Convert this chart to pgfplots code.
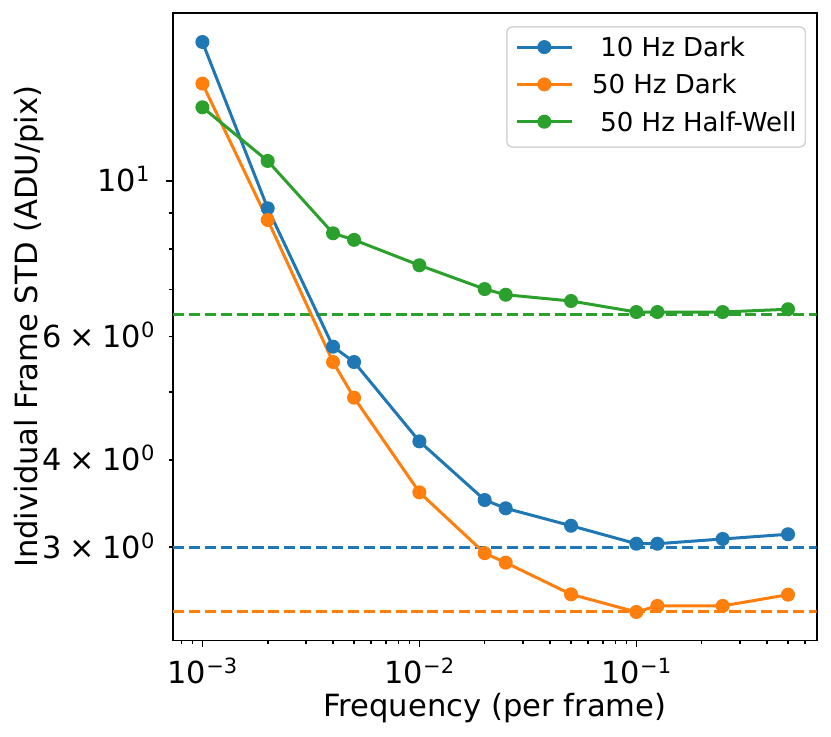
\documentclass[border=0pt]{standalone}
\usepackage{fontspec}
\setmainfont{DejaVu Sans}
\usepackage{pgfplots}
\pgfplotsset{compat=1.18}
\definecolor{c0}{HTML}{1F77B4}
\definecolor{c1}{HTML}{FF7F0E}
\definecolor{c2}{HTML}{2CA02C}
\definecolor{lgd}{HTML}{D6D6D6}
\newcommand{\sups}[1]{\raisebox{5pt}{\fontsize{10.5}{11}\selectfont #1}}
\newcommand{\tms}{\hspace{0.25em}×\hspace{0.25em}}
\begin{document}
\begin{tikzpicture}
\useasboundingbox (-86.5pt,-47.75pt) rectangle (329pt,320.25pt);
\begin{axis}[
  at={(0pt,0pt)}, anchor=south west,
  width=321.85pt, height=313.75pt, scale only axis,
  xmode=log, ymode=log,
  xmin=7.32e-4, xmax=0.678, ymin=2.208, ymax=17.37,
  axis line style={line width=0.8pt, black},
  tick align=outside, major tick length=3.5pt, minor tick length=2pt,
  xtick pos=bottom, ytick pos=left,
  tick style={line width=0.8pt, black},
  every tick label/.style={font=\fontsize{15.2}{18}\selectfont},
  xtick={1e-3,1e-2,1e-1},
  xticklabels={10\sups{−3},10\sups{−2},10\sups{−1}},
  minor xtick={8e-4,9e-4,2e-3,3e-3,4e-3,5e-3,6e-3,7e-3,8e-3,9e-3,2e-2,3e-2,4e-2,5e-2,6e-2,7e-2,8e-2,9e-2,2e-1,3e-1,4e-1,5e-1,6e-1},
  ytick={10},
  yticklabels={10\sups{1}},
  minor ytick={3,4,5,6,7,8,9},
  extra y ticks={3,4,6},
  extra y tick labels={3\tms 10\sups{0},4\tms 10\sups{0},6\tms 10\sups{0}},
  extra y tick style={tick style={draw=none}, yticklabel style={xshift=2.5pt}},
  xticklabel style={anchor=base, inner sep=0pt, yshift=-18.1pt},
  yticklabel style={anchor=base east, inner sep=0pt, xshift=-8pt, yshift=-5.5pt},
  xlabel={Frequency (per frame)},
  ylabel={Individual Frame STD (ADU/pix)},
  label style={font=\fontsize{15.3}{18}\selectfont},
  xlabel style={at={(axis description cs:0.5,0)}, anchor=base, inner sep=0pt, yshift=-37.75pt},
  ylabel style={at={(axis description cs:-0.2108,0.5)}, anchor=base, inner sep=0pt},
  legend style={at={(axis description cs:1,1)}, anchor=north east, xshift=-5.25pt, yshift=-6.55pt,
    font=\fontsize{13}{15.6}\selectfont, draw=lgd, line width=0.8pt, rounded corners=2.6pt, fill=white,
    inner xsep=4.4pt, inner ysep=5.35pt, row sep=6.55pt,
    nodes={inner sep=0pt, text height=9.5pt, text depth=2.6pt, anchor=base west},
    /tikz/every odd column/.append style={column sep=9.55pt}},
  legend cell align=left,
  legend image code/.code={\draw[mark repeat=2, mark phase=2, rounded corners=0pt] plot coordinates {(0pt,4.75pt)(13.6pt,4.75pt)(27.2pt,4.75pt)};},
]
\addplot[forget plot, c2, line width=1.5pt, dash pattern=on 5.55pt off 2.4pt] coordinates {(7.32e-4,6.445) (0.678,6.445)};
\addplot[forget plot, c0, line width=1.5pt, dash pattern=on 5.55pt off 2.4pt] coordinates {(7.32e-4,3.0) (0.678,3.0)};
\addplot[forget plot, c1, line width=1.5pt, dash pattern=on 5.55pt off 2.4pt] coordinates {(7.32e-4,2.429) (0.678,2.429)};

\addplot[c0, line width=1.5pt, mark=*, mark size=3pt, mark options={line width=1pt, fill=c0, draw=c0}] coordinates {
(0.001,15.79) (0.002,9.141) (0.004,5.80) (0.005,5.515) (0.01,4.249) (0.02,3.504) (0.025,3.410) (0.05,3.220) (0.1,3.035) (0.125,3.035) (0.25,3.083) (0.5,3.131)};
\addlegendentry{\hspace*{0.318em}10 Hz Dark}
\addplot[c1, line width=1.5pt, mark=*, mark size=3pt, mark options={line width=1pt, fill=c1, draw=c1}] coordinates {
(0.001,13.77) (0.002,8.796) (0.004,5.515) (0.005,4.905) (0.01,3.594) (0.02,2.942) (0.025,2.852) (0.05,2.570) (0.1,2.425) (0.125,2.474) (0.25,2.474) (0.5,2.567)};
\addlegendentry{50 Hz Dark}
\addplot[c2, line width=1.5pt, mark=*, mark size=3pt, mark options={line width=1pt, fill=c2, draw=c2}] coordinates {
(0.001,12.74) (0.002,10.68) (0.004,8.42) (0.005,8.24) (0.01,7.58) (0.02,7.01) (0.025,6.88) (0.05,6.74) (0.1,6.50) (0.125,6.50) (0.25,6.50) (0.5,6.56)};
\addlegendentry{\hspace*{0.318em}50 Hz Half-Well}
\end{axis}
\end{tikzpicture}
\end{document}
